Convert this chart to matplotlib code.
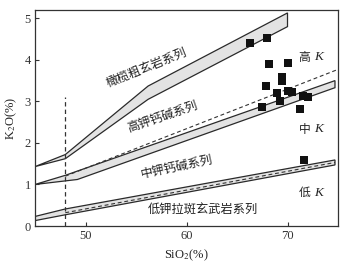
import matplotlib
matplotlib.use("Agg")
import matplotlib.pyplot as plt
import numpy as np

plt.rcParams['font.family'] = ['Liberation Serif', 'Noto Sans CJK SC', 'DejaVu Sans']
plt.rcParams['mathtext.fontset'] = 'stix'

# Sample data (SiO2 %, K2O %)
sio2 = [66.3, 68.0, 68.2, 70.05, 69.5, 69.5, 67.9, 68.95, 70.05, 70.4,
        71.5, 72.0, 69.25, 67.5, 71.25, 71.6]
k2o = [4.41, 4.52, 3.90, 3.93, 3.59, 3.49, 3.36, 3.19, 3.25, 3.22,
       3.12, 3.10, 3.01, 2.87, 2.82, 1.59]

# Boundary bands (upper / lower edges)
sho_up_x = [45, 48, 56.2, 70]
sho_up_y = [1.43, 1.72, 3.37, 5.13]
sho_lo_x = [45, 48, 56.2, 70]
sho_lo_y = [1.43, 1.62, 3.05, 4.80]

hk_up_x = [45, 48, 74.7]
hk_up_y = [1.0, 1.22, 3.50]
hk_lo_x = [45, 49.2, 74.7]
hk_lo_y = [1.0, 1.12, 3.33]

lk_up_x = [45, 48, 74.7]
lk_up_y = [0.23, 0.41, 1.59]
lk_lo_x = [45, 48, 74.7]
lk_lo_y = [0.13, 0.27, 1.47]

# Dashed boundaries
dash_hk_x = [48, 75]
dash_hk_y = [1.2, 3.77]
dash_lk_x = [48, 74.7]
dash_lk_y = [0.32, 1.53]
vline_x = 48
vline_y = [0, 3.1]

series_labels = ["橄榄粗玄岩系列", "高钾钙碱系列", "中钾钙碱系列", "低钾拉斑玄武岩系列"]
field_labels = ["高", "中", "低"]

fig = plt.figure(figsize=(3.49, 2.62), dpi=100)
ax = fig.add_axes([0.1003, 0.1374, 0.8682, 0.8244])

line_col = '#2a2a2a'
fill_col = '#e3e3e3'

def band(xu, yu, xl, yl):
    px = list(xu) + list(xl[::-1])
    py = list(yu) + list(yl[::-1])
    ax.fill(px, py, facecolor=fill_col, edgecolor=line_col, linewidth=0.9, zorder=2)

band(sho_up_x, sho_up_y, sho_lo_x, sho_lo_y)
band(hk_up_x, hk_up_y, hk_lo_x, hk_lo_y)
band(lk_up_x, lk_up_y, lk_lo_x, lk_lo_y)

ax.plot(dash_hk_x, dash_hk_y, color='#333333', lw=0.8, dashes=(3.5, 2.5), zorder=3)
ax.plot(dash_lk_x, dash_lk_y, color='#333333', lw=0.8, dashes=(3.5, 2.5), zorder=3)
ax.plot([vline_x, vline_x], vline_y, color='#333333', lw=0.9, dashes=(3.5, 2.5), zorder=3)

ax.scatter(sio2, k2o, marker='s', s=30, color='#111111', zorder=4, linewidths=0)

cjk = ['Noto Sans CJK SC', 'DejaVu Sans']
tc = '#222222'
ax.text(56.1, 3.80, series_labels[0], rotation=22, ha='center', va='center',
        fontsize=8.8, family=cjk, color=tc)
ax.text(57.6, 2.62, series_labels[1], rotation=19, ha='center', va='center',
        fontsize=8.8, family=cjk, color=tc)
ax.text(59.0, 1.42, series_labels[2], rotation=12, ha='center', va='center',
        fontsize=8.8, family=cjk, color=tc)
ax.text(61.6, 0.39, series_labels[3], rotation=0, ha='center', va='center',
        fontsize=8.8, family=cjk, color=tc)

for lab, yy in zip(field_labels, [4.06, 2.33, 0.80]):
    ax.text(72.6, yy, lab + " ", ha='right', va='center', fontsize=8.5, family=cjk, color=tc)
    ax.text(72.6, yy, "K", ha='left', va='center', fontsize=9.5, color=tc,
            family='Liberation Serif', style='italic')

ax.set_xlim(45, 75)
ax.set_ylim(0, 5.2)
ax.set_xticks([50, 60, 70])
ax.set_yticks([0, 1, 2, 3, 4, 5])
ax.tick_params(direction='in', length=3, width=0.8, labelsize=9, colors='#333333', pad=3)
for sp in ax.spines.values():
    sp.set_color('#333333')
    sp.set_linewidth(0.9)

ax.set_xlabel("SiO$_2$(%)", fontsize=9, color=tc, labelpad=4)
ax.set_ylabel("K$_2$O(%)", fontsize=9, color=tc, labelpad=4)

fig.savefig("out.png", dpi=100)
